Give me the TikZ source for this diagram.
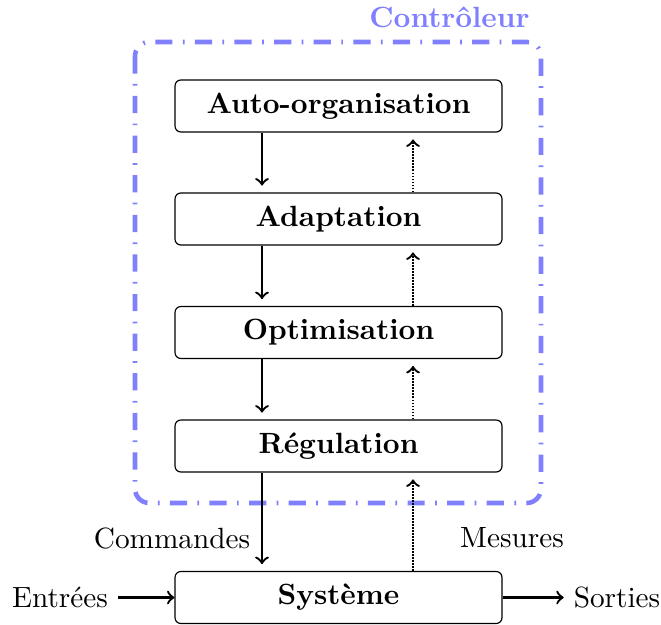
\documentclass[tikz,border=0pt]{standalone}
\usetikzlibrary{arrows}
\begin{document}
\begin{tikzpicture}[x=0.3484pt,y=-0.3484pt,
  every node/.style={font=\fontsize{10.2pt}{12.2pt}\selectfont},
  blk/.style={draw,rounded corners=2pt,minimum width=113.9pt,minimum height=18.1pt,inner sep=0pt,font=\fontsize{10.2pt}{12.2pt}\selectfont\bfseries},
  cmd/.style={thick,->,shorten >=2.4pt},
  mes/.style={thick,dash pattern=on 0.65pt off 0.4pt,->,shorten >=2.4pt},
  lab/.style={inner sep=3.3pt},
  ctrl/.style={draw=blue!50,line width=1.6pt,rounded corners=5pt,dash pattern=on 6pt off 3.6pt on 0.6pt off 3.6pt}]
\useasboundingbox (0,0) rectangle (661,624);
\coordinate (L) at (262,0);
\coordinate (R) at (413,0);
\node[blk] (auto) at (338.5,106) {Auto-organisation};
\node[blk] (adapt) at (338.5,219) {Adaptation};
\node[blk] (optim) at (338.5,332.5) {Optimisation};
\node[blk] (regul) at (338.5,446) {Régulation};
\node[blk] (sys) at (338.5,597.5) {Système};
\draw[ctrl] (135,42) rectangle (541,503);
\node[anchor=base east,inner sep=0pt,text=blue!50,font=\fontsize{10.2pt}{12.2pt}\selectfont\bfseries] (ctl) at (530,28) {Contrôleur};
\draw[cmd] (auto.south -| L) -- (adapt.north -| L);
\draw[cmd] (adapt.south -| L) -- (optim.north -| L);
\draw[cmd] (optim.south -| L) -- (regul.north -| L);
\draw[cmd] (regul.south -| L) -- (sys.north -| L);
\draw[mes] (adapt.north -| R) -- (auto.south -| R);
\draw[mes] (optim.north -| R) -- (adapt.south -| R);
\draw[mes] (regul.north -| R) -- (optim.south -| R);
\draw[mes] (sys.north -| R) -- (regul.south -| R);
\node[lab] (cmdl) at (172,538) {Commandes};
\node[lab] (mesl) at (512,538) {Mesures};
\node[lab] (ent) at (60,597.5) {Entrées};
\node[lab] (sor) at (617,597.5) {Sorties};
\draw[thick,->] (ent) -- (sys);
\draw[thick,->] (sys) -- (sor);
\end{tikzpicture}
\end{document}
